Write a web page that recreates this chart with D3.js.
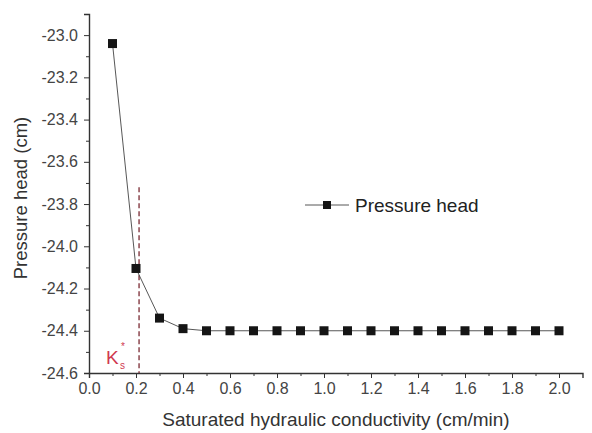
<!DOCTYPE html>
<html>
<head>
<meta charset="utf-8">
<script src="https://cdn.jsdelivr.net/npm/d3@7"></script>
<style>
  body { margin: 0; background: #fff; }
  text { font-family: "Liberation Sans", Arial, sans-serif; }
</style>
</head>
<body>
<div id="graph"></div>
<script>
// conductivity (cm/min) vs pressure head (cm)
var ks = [0.1, 0.2, 0.3, 0.4, 0.5, 0.6, 0.7, 0.8, 0.9, 1.0, 1.1, 1.2, 1.3, 1.4, 1.5, 1.6, 1.7, 1.8, 1.9, 2.0]
var head = [-23.04, -24.105, -24.34, -24.39, -24.40, -24.40, -24.40, -24.40, -24.40, -24.40,
            -24.40, -24.40, -24.40, -24.40, -24.40, -24.40, -24.40, -24.40, -24.40, -24.40]
var xTicks = [0.0, 0.2, 0.4, 0.6, 0.8, 1.0, 1.2, 1.4, 1.6, 1.8, 2.0]
var yTicks = [-23.0, -23.2, -23.4, -23.6, -23.8, -24.0, -24.2, -24.4, -24.6]
var ksStar = 0.213
var ksTop = -23.72

var W = 592, H = 433
var margin = {top: 14, left: 89, right: 7, bottom: 60}

var svg = d3.select('#graph').append('svg')
  .attr('width', W).attr('height', H)

var x = d3.scaleLinear().domain([0, 2.1]).range([margin.left, margin.left + 493.5])
var y = d3.scaleLinear().domain([-24.6, -22.9]).range([373, margin.top])

var axisColor = '#333'
var fmt = d => d.toFixed(1)   // plain hyphen, like the original

// x axis
var xg = svg.append('g').attr('transform', 'translate(0,373)')
xg.call(d3.axisBottom(x).tickValues(d3.range(0.1, 2.1, 0.2)).tickSize(3).tickFormat(''))
xg.call(g => g.select('.domain').remove())
var xg2 = svg.append('g').attr('transform', 'translate(0,373)')
  .call(d3.axisBottom(x).tickValues(xTicks).tickSize(5).tickPadding(5).tickFormat(fmt))
xg2.select('.domain').attr('stroke', axisColor).attr('stroke-width', 1.4)
xg2.selectAll('text').attr('font-size', 16).attr('fill', '#444')

// y axis
var yg = svg.append('g').attr('transform', 'translate(89,0)')
yg.call(d3.axisLeft(y).tickValues(d3.range(-24.5, -22.85, 0.2)).tickSize(3).tickFormat(''))
yg.call(g => g.select('.domain').remove())
var yg2 = svg.append('g').attr('transform', 'translate(89,0)')
  .call(d3.axisLeft(y).tickValues(yTicks).tickSize(5).tickPadding(6).tickFormat(fmt))
yg2.select('.domain').attr('stroke', axisColor).attr('stroke-width', 1.4)
yg2.selectAll('text').attr('font-size', 16).attr('fill', '#444')
svg.selectAll('.tick line').attr('stroke', axisColor)

// axis titles
svg.append('text')
  .attr('x', 336).attr('y', 426)
  .attr('text-anchor', 'middle').attr('font-size', 19).attr('fill', '#333')
  .text('Saturated hydraulic conductivity (cm/min)')

svg.append('text')
  .attr('transform', 'translate(27,198) rotate(-90)')
  .attr('text-anchor', 'middle').attr('font-size', 18.5).attr('fill', '#333')
  .text('Pressure head (cm)')

// Ks marker line
svg.append('line')
  .attr('x1', x(ksStar)).attr('x2', x(ksStar))
  .attr('y1', y(ksTop)).attr('y2', y(-24.6))
  .attr('stroke', '#7a2a33').attr('stroke-width', 1.3)
  .attr('stroke-dasharray', '5,3')

// K*s label, pieces placed apart so they don't collide
var ksColor = '#d0384f'
svg.append('text').attr('x', 106).attr('y', 364)
  .attr('font-size', 19).attr('fill', ksColor).text('K')
svg.append('text').attr('x', 121).attr('y', 350)
  .attr('font-size', 10).attr('fill', ksColor).text('*')
svg.append('text').attr('x', 120).attr('y', 369)
  .attr('font-size', 10).attr('fill', ksColor).text('s')

// series
var pts = ks.map((d, i) => ({k: d, h: head[i]}))

var line = d3.line()
  .x(d => x(d.k))
  .y(d => y(d.h))

svg.append('path')
  .datum(pts)
  .attr('d', line)
  .attr('fill', 'none')
  .attr('stroke', '#444')
  .attr('stroke-width', 0.9)

svg.selectAll('rect.pt').data(pts).join('rect')
  .attr('class', 'pt')
  .attr('x', d => x(d.k) - 4.5)
  .attr('y', d => y(d.h) - 4.5)
  .attr('width', 9).attr('height', 9)
  .attr('fill', '#151515')

// legend
var lg = svg.append('g').attr('transform', 'translate(305,205)')
lg.append('line').attr('x1', 0).attr('x2', 44).attr('stroke', '#444').attr('stroke-width', 0.9)
lg.append('rect').attr('x', 18).attr('y', -4).attr('width', 8).attr('height', 8).attr('fill', '#151515')
lg.append('text').attr('x', 50).attr('y', 7).attr('font-size', 19).attr('fill', '#222')
  .text('Pressure head')
</script>
</body>
</html>
